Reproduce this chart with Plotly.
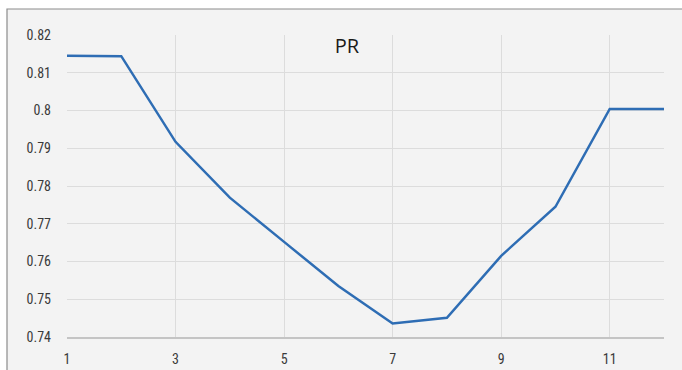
import plotly.graph_objects as go

# PR value per step
steps = [1, 2, 3, 4, 5, 6, 7, 8, 9, 10, 11, 12]
pr_values = [0.8145, 0.8144, 0.7917, 0.7769, 0.7652, 0.7535, 0.7436, 0.7451, 0.7615, 0.7745, 0.8004, 0.8004]

y_ticks = [0.74, 0.75, 0.76, 0.77, 0.78, 0.79, 0.8, 0.81, 0.82]
x_ticks = [1, 3, 5, 7, 9, 11]

W, H = 682, 370
L, R, T, B = 67, 18, 35, 33
pw, ph = W - L - R, H - T - B

def px_x(p):
    return (p - L) / pw

def px_y(p):
    return (H - B - p) / ph

fig = go.Figure()
fig.add_trace(go.Scatter(
    x=steps, y=pr_values, mode="lines",
    line=dict(color="#2e6db4", width=2.5),
    hoverinfo="x+y", showlegend=False,
))

tick_font = dict(family="Roboto Condensed, Liberation Sans Narrow, Roboto, sans-serif", size=14, color="#3a3a3a")

fig.update_layout(
    width=W, height=H,
    margin=dict(l=L, r=R, t=T, b=B),
    paper_bgcolor="white",
    plot_bgcolor="rgba(0,0,0,0)",
    title=dict(text="PR", x=347 / W, xref="container", xanchor="center",
               y=1 - 46 / H, yref="container", yanchor="middle",
               font=dict(family="Open Sans, Noto Sans, sans-serif", size=20, color="#1a1a1a")),
    shapes=[dict(type="rect", xref="paper", yref="paper", layer="below",
                 x0=px_x(7), x1=px_x(W + 10), y0=px_y(H + 10), y1=px_y(9),
                 fillcolor="#f3f3f3", line=dict(color="#8c8c8c", width=1.2))],
    xaxis=dict(range=[1, 12], tickvals=x_ticks, showgrid=True, gridcolor="#dcdcdc",
               gridwidth=1, zeroline=False, showline=True, linecolor="#c4c4c4",
               linewidth=1.5, ticks="", tickfont=tick_font, ticklabelstandoff=8,
               automargin=False),
    yaxis=dict(range=[0.74, 0.82], tickvals=y_ticks, showgrid=True, gridcolor="#dcdcdc",
               gridwidth=1, zeroline=False, showline=False, ticks="",
               tickfont=tick_font, ticklabelstandoff=15, automargin=False),
)

fig.write_html("out.html")
